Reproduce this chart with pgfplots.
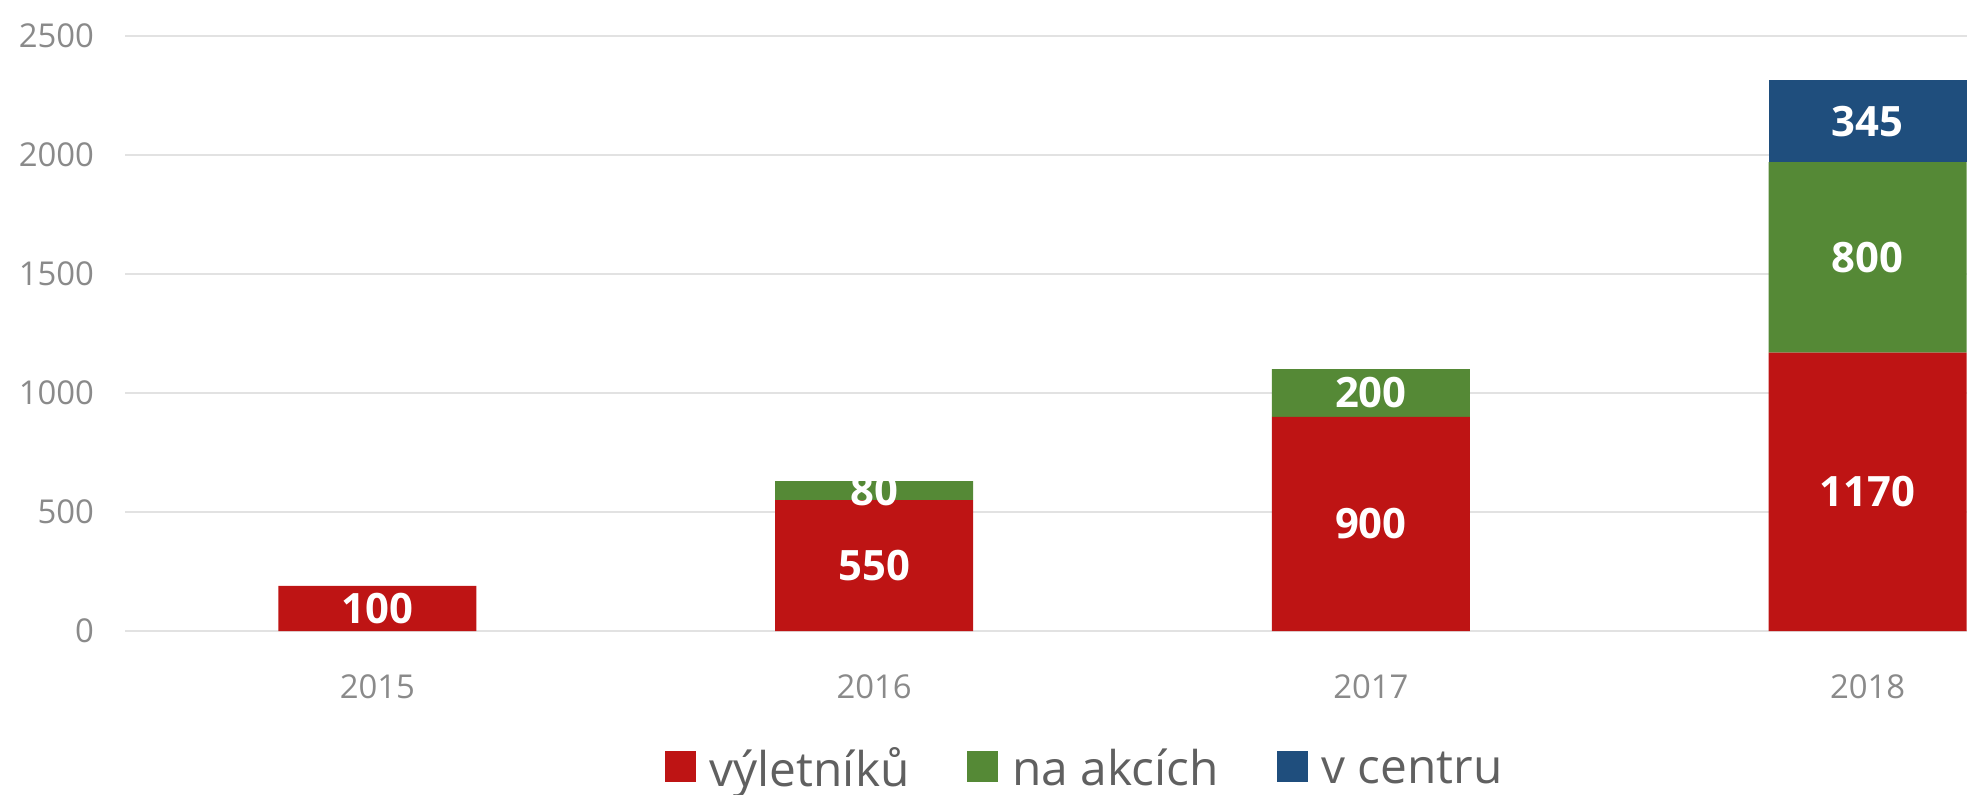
\documentclass[border=0pt]{standalone}
\usepackage{fontspec}
\setmainfont{Open Sans}
\usepackage{pgfplots}
\usepackage{pgfplotstable}
\pgfplotsset{compat=1.18}
\definecolor{cred}{HTML}{BE1414}
\definecolor{cgreen}{HTML}{558936}
\definecolor{cblue}{HTML}{1F4E7D}
\definecolor{gridgray}{HTML}{E2E2E2}
\definecolor{tickgray}{HTML}{8A8A8A}
\definecolor{leggray}{HTML}{606060}
\pgfplotstableread{
x y lab
0 190 100
1 550 550
2 900 900
3 1170 1170
}\tred
\pgfplotstableread{
x y lab
0 0 {}
1 80 80
2 200 200
3 800 800
}\tgreen
\pgfplotstableread{
x y lab
0 0 {}
1 0 {}
2 0 {}
3 345 345
}\tblue
\begin{document}
\begin{tikzpicture}
\begin{axis}[name=ax, scale only axis, width=921bp, height=297.5bp,
  ybar stacked, bar width=99bp,
  xmin=-0.508, xmax=3.2, ymin=0, ymax=2500,
  xtick={0,1,2,3}, xticklabels={2015,2016,2017,2018},
  ytick={0,500,1000,1500,2000,2500},
  ymajorgrids, grid style={draw=gridgray, line width=1bp},
  axis line style={draw=none}, major tick length=0pt,
  /pgf/number format/assume math mode=true,
  /pgf/number format/1000 sep={},
  tick label style={font=\fontsize{16.5}{20}\selectfont, text=tickgray},
  yticklabel style={xshift=-12bp},
  xticklabel style={yshift=-18.5bp},
  clip=false,
  legend columns=3,
  legend style={at={(0.521,-0.2316)}, anchor=center, draw=none, fill=none,
    font=\fontsize{24}{29}\selectfont, text=leggray,
    /tikz/every odd column/.append style={column sep=6bp},
    /tikz/every even column/.append style={column sep=28bp},
    nodes={inner sep=1bp}},
  legend image code/.code={\fill[#1,draw=none] (0bp,-6.5bp) rectangle (15.5bp,9bp);},
  point meta=explicit symbolic,
  nodes near coords,
  every node near coord/.append style={anchor=center, text=white,
    font=\fontsize{21}{25}\selectfont\bfseries},
]
\addplot[fill=cred, draw=none] table[x=x, y=y, meta=lab] {\tred};
\addlegendentry{výletníků}
\addplot[fill=cgreen, draw=none] table[x=x, y=y, meta=lab] {\tgreen};
\addlegendentry{na akcích}
\addplot[fill=cblue, draw=none] table[x=x, y=y, meta=lab] {\tblue};
\addlegendentry{v centru}
\end{axis}
\pgfresetboundingbox
\path[use as bounding box] ([xshift=-62.5bp,yshift=-82bp]ax.south west) rectangle ([yshift=18bp]ax.north east);
\end{tikzpicture}
\end{document}
